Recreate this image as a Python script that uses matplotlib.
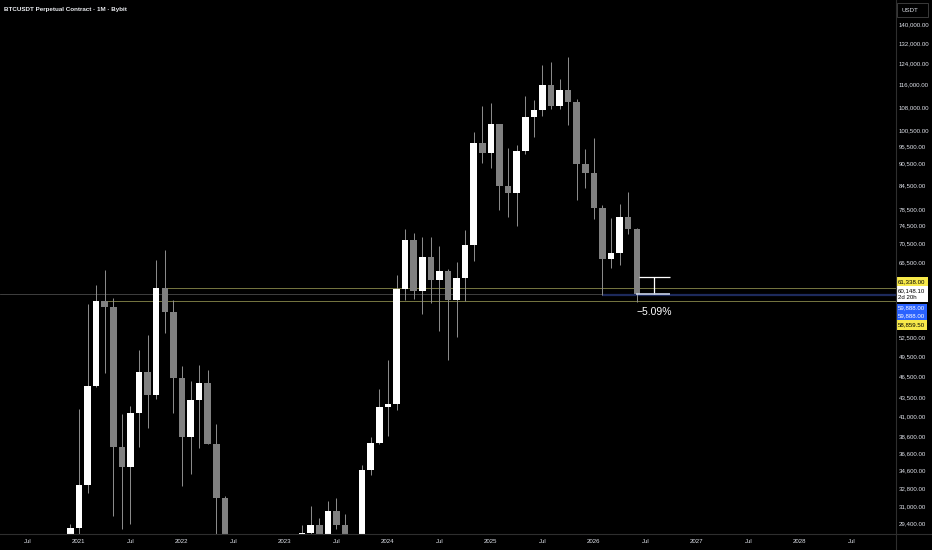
import matplotlib
matplotlib.use('Agg')
import matplotlib.pyplot as plt
from matplotlib.lines import Line2D
from matplotlib.patches import Rectangle
from matplotlib.ticker import FixedLocator, FuncFormatter, NullLocator
import pandas as pd

plt.rcParams['font.family'] = ['Liberation Sans', 'DejaVu Sans']

# BTCUSDT perpetual, monthly candles (Oct 2020 .. Jun 2026)
months = pd.period_range('2020-10', '2026-06', freq='M')
opens = [10780, 13800, 19700, 28950, 33100, 45140, 58800, 57750, 37300, 35050, 41500, 47150,
         43830, 61338, 56950, 46250, 38480, 43180, 45530, 37650, 31800, 19940, 23300, 20050,
         19420, 20490, 17170, 16540, 23130, 23140, 28470, 29230, 27210, 30470, 29230, 25940,
         26960, 34640, 37720, 42280, 42580, 61130, 71290, 60670, 67520, 62760, 64630, 58980,
         63330, 70200, 96400, 93430, 102400, 84350, 82550, 94200, 104600, 107100, 115750, 108250,
         114050, 109600, 90350, 87850, 78800, 67050, 68450, 76500, 73750]
highs = [14100, 19900, 29300, 41950, 58350, 61780, 64850, 59500, 41300, 42400, 50500, 52900,
         67000, 69000, 59050, 47990, 45800, 48190, 47440, 40000, 31990, 24670, 25200, 22800,
         21080, 21480, 18390, 23960, 25250, 29190, 31000, 29820, 31430, 31800, 30190, 27480,
         35200, 38420, 44700, 48970, 63900, 73800, 72800, 71950, 72000, 70000, 65000, 66500,
         73600, 99800, 108300, 109350, 102500, 95000, 95750, 111900, 110500, 123200, 124500, 117900,
         126200, 110600, 94700, 98000, 79500, 76250, 79650, 82850, 73900]
lows = [10370, 13200, 17570, 28130, 32300, 44950, 47000, 30000, 28800, 29300, 37300, 39600,
        43280, 53250, 41500, 32950, 34300, 37150, 37600, 26700, 17600, 18780, 19550, 18150,
        18190, 15480, 16260, 16500, 21350, 19550, 26940, 25800, 24800, 28860, 25170, 24900,
        26540, 34100, 37620, 38550, 41880, 59000, 59200, 56550, 58400, 53500, 49000, 52550,
        58900, 66800, 90500, 89200, 78200, 76600, 74500, 93300, 98200, 105100, 107300, 107250,
        102000, 80700, 83900, 76000, 59888, 65200, 65900, 72600, 58600]
closes = [13800, 19700, 28950, 33100, 45140, 58800, 57750, 37300, 35050, 41500, 47150, 43830,
          61338, 56950, 46250, 38480, 43180, 45530, 37650, 31800, 19940, 23300, 20050, 19420,
          20490, 17170, 16540, 23130, 23140, 28470, 29230, 27210, 30470, 29230, 25940, 26960,
          34640, 37720, 42280, 42580, 61130, 71290, 60670, 67520, 62760, 64630, 58980, 63330,
          70200, 96400, 93430, 102400, 84350, 82550, 94200, 104600, 107100, 115750, 108250, 114050,
          109600, 90350, 87850, 78800, 67050, 68450, 76500, 73750, 60148.1]

# price scale labels shown on the right
price_ticks = [140000, 132000, 124000, 116000, 108000, 100500, 95500, 90500, 84500, 78500,
               74500, 70500, 66500, 62500, 52500, 49500, 46500, 43500, 41000, 38600, 36600,
               34600, 32800, 31000, 29400]

# drawn levels
level_top = 61338.0
level_bottom = 58859.5
level_blue = 59888.0
change_pct = -5.09
countdown = '2d 20h'

BG = '#000000'
TXT = '#dfe2ea'
GRID = '#2e2e2e'
FS = 4.4

x = [(p.year - 2021) * 12 + p.month - 1 for p in months]
last_close = closes[-1]

fig = plt.figure(figsize=(9.32, 5.5), dpi=100, facecolor=BG)
ax = fig.add_axes([0, 16 / 550, 896 / 932, 534 / 550])
ax.set_facecolor(BG)
ax.set_yscale('log')
ax.set_ylim(28390, 150940)
ax.set_xlim(-9.2, 95.2)
x_right = 95.2

# candles
ax.vlines(x, lows, highs, color='#8f8f8f', lw=0.7, zorder=2)
bottoms = [min(o, c) for o, c in zip(opens, closes)]
heights = [max(abs(c - o), 0.004 * o) for o, c in zip(opens, closes)]
colors = ['#ffffff' if c >= o else '#808080' for o, c in zip(opens, closes)]
ax.bar(x, heights, bottom=bottoms, width=0.76, color=colors, lw=0, zorder=3)

# horizontal levels
ax.axhline(last_close, color='#4a4a4a', lw=0.6, zorder=1)
ax.hlines(level_top, x[13], x_right, color='#8a8a4c', lw=0.6, zorder=1)
ax.hlines(level_bottom, x[6], x_right, color='#8a8a4c', lw=0.6, zorder=1)
ax.hlines(level_blue, x[-5], x_right, color='#1d2a5c', lw=1.6, zorder=1)

# price range measurement
measure_top = last_close / (1 + change_pct / 100)
mx = x[-1] + 2
ax.hlines(measure_top, x[-1] + 0.3, x[-1] + 3.9, color='white', lw=0.9, zorder=4)
ax.vlines(mx, last_close, measure_top, color='white', lw=0.9, zorder=4)
ax.hlines(last_close, x[-1] - 0.1, x[-1] + 3.9, color='#c8d2e8', lw=1.2, zorder=4)
ax.annotate(f'\u2212{abs(change_pct):.2f}%', (mx, last_close), xytext=(0, -13),
            textcoords='offset points', ha='center', va='center', fontsize=7.5, color='white')

# axes styling
for s in ax.spines.values():
    s.set_visible(False)
ax.yaxis.tick_right()
ax.yaxis.set_major_locator(FixedLocator(price_ticks))
ax.yaxis.set_minor_locator(NullLocator())
ax.yaxis.set_major_formatter(FuncFormatter(lambda v, p: f'{v:,.2f}'))
ax.tick_params(axis='y', length=0, pad=2.0, labelsize=FS, labelcolor=TXT)

xticks = list(range(-6, 91, 6))
ax.set_xticks(xticks)
ax.set_xticklabels(['Jul' if t % 12 == 6 else str(2021 + t // 12) for t in xticks])
ax.tick_params(axis='x', length=0, pad=3.4, labelsize=FS, labelcolor=TXT)

# price scale tags
tags = [
    (level_top, f'{level_top:,.2f}', '#f7e94a', '#000000', 4.2),
    (last_close, f'{last_close:,.2f}\n{countdown}', '#ffffff', '#000000', 0),
    (level_blue, f'{level_blue:,.2f}', '#2962ff', '#ffffff', -9.2),
    (level_blue, f'{level_blue:,.2f}', '#2962ff', '#ffffff', -15.0),
    (level_bottom, f'{level_bottom:,.2f}', '#f7e94a', '#000000', -17.3),
]
for val, label, fc, tc, dy in tags:
    ax.annotate(label, (1, val), xycoords=('axes fraction', 'data'), xytext=(1.6, dy),
                textcoords='offset points', ha='left', va='center', fontsize=FS,
                color=tc, linespacing=1.25, annotation_clip=False, zorder=6,
                bbox=dict(boxstyle='square,pad=0.35', fc=fc, ec='none'))

# separators of the price and time scales
fig.add_artist(Line2D([896 / 932] * 2, [0, 1], color=GRID, lw=0.8))
fig.add_artist(Line2D([0, 1], [16 / 550] * 2, color=GRID, lw=0.8))

fig.add_artist(Rectangle((897 / 932, 1 - 17 / 550), 31 / 932, 14 / 550, transform=fig.transFigure,
                         fc=BG, ec='#3a3a3a', lw=0.7))
fig.text(902 / 932, 1 - 10 / 550, 'USDT', ha='left', va='center', fontsize=FS, color=TXT)

fig.text(4 / 932, 1 - 9 / 550, 'BTCUSDT Perpetual Contract \u00b7 1M \u00b7 Bybit',
         ha='left', va='center', fontsize=4.5, color='#eceef2', weight='bold')

fig.savefig('out.png', dpi=100, facecolor=BG)
